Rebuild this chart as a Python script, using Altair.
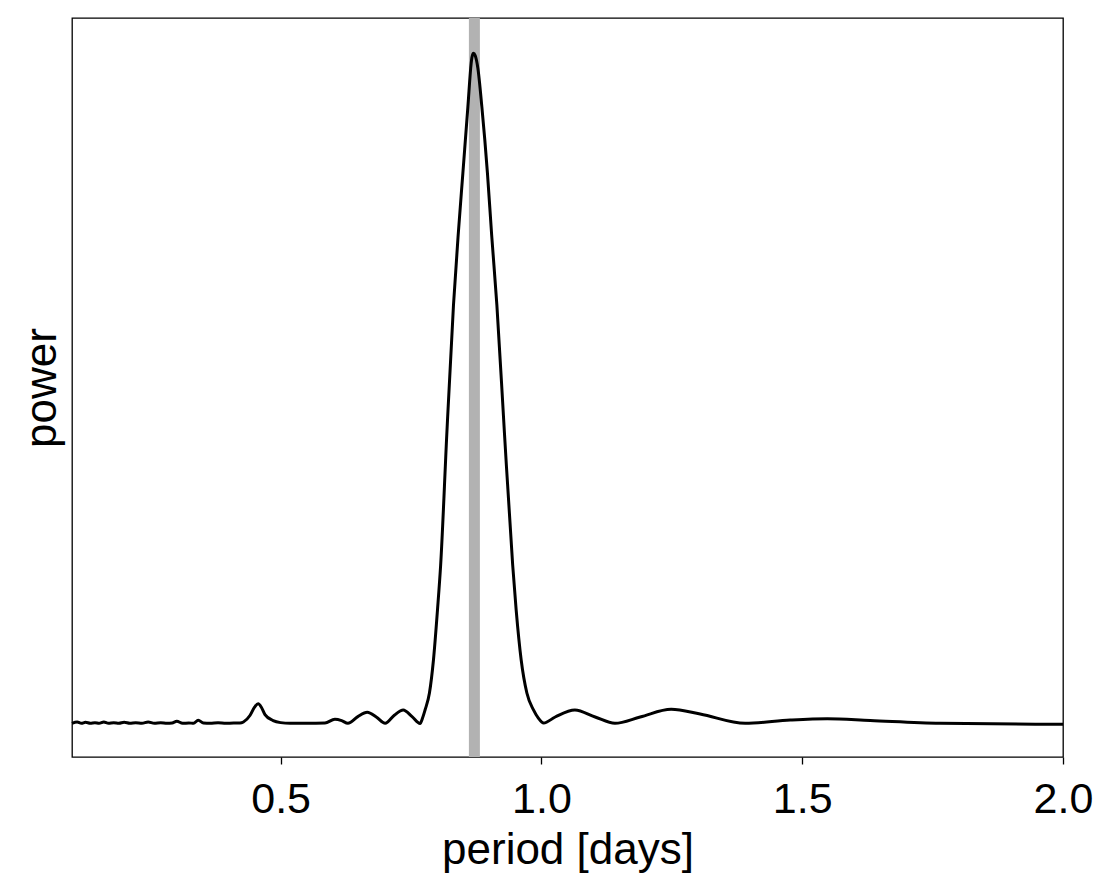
import altair as alt
import pandas as pd

# ---- data ----
periods = [
    0.100, 0.110, 0.118, 0.126, 0.135, 0.144, 0.152, 0.161, 0.170, 0.180,
    0.190, 0.200, 0.211, 0.222, 0.234, 0.246, 0.258, 0.270, 0.282, 0.292,
    0.301, 0.312, 0.324, 0.333, 0.342, 0.352, 0.365, 0.380, 0.395, 0.410,
    0.422, 0.4287, 0.4415, 0.450, 0.457, 0.463, 0.470, 0.4856, 0.500, 0.518,
    0.550, 0.585, 0.604, 0.617, 0.629, 0.648, 0.666, 0.684, 0.7004, 0.718,
    0.735, 0.752, 0.7673, 0.7721, 0.7769, 0.7853, 0.7930, 0.8007, 0.8068, 0.8187,
    0.8314, 0.8404, 0.8494, 0.8590, 0.8653, 0.8668, 0.8697, 0.8730, 0.8781, 0.8858,
    0.8965, 0.9046, 0.9146, 0.9291, 0.9449, 0.9516, 0.9612, 0.9721, 0.9848, 0.9938,
    1.0043, 1.0264, 1.0641, 1.103, 1.141, 1.1894, 1.2488, 1.3044, 1.3907, 1.477,
    1.548, 1.6304, 1.7646, 2.000,
]
power = [
    0.000, 0.002, 0.000, 0.0015, 0.000, 0.001, 0.000, 0.002, 0.000, 0.001,
    0.000, 0.0015, 0.000, 0.001, 0.000, 0.002, 0.000, 0.001, 0.000, 0.0005,
    0.003, 0.000, 0.0005, 0.000, 0.0045, 0.0005, 0.000, 0.001, 0.000, 0.0005,
    0.0005, 0.002, 0.012, 0.024, 0.029, 0.024, 0.013, 0.004, 0.001, 0.000,
    0.000, 0.0005, 0.006, 0.004, 0.000, 0.010, 0.0164, 0.009, 0.000, 0.012,
    0.0199, 0.010, -0.0003, 0.0079, 0.0199, 0.0452, 0.0945, 0.169, 0.2363, 0.4333,
    0.6243, 0.7288, 0.8213, 0.9199, 0.985, 0.994, 1.000, 0.9966, 0.978, 0.9199,
    0.8213, 0.7288, 0.6243, 0.4333, 0.2363, 0.169, 0.0945, 0.0452, 0.0199, 0.008,
    0.0004, 0.0094, 0.0199, 0.0094, 0.000, 0.0094, 0.0209, 0.0139, 0.000, 0.0049,
    0.0069, 0.0042, 0.000, -0.0015,
]
true_period = [0.8715]

x_domain = [0.1, 2.0]
y_domain = [-0.0503, 1.0527]
x_ticks = [0.5, 1.0, 1.5, 2.0]

df = pd.DataFrame({"period": periods, "power": power})
df_band = pd.DataFrame({"period": true_period})

FONT = "Liberation Sans"
LFS = 43
TFS = 44

x_enc = alt.X(
    "period:Q",
    scale=alt.Scale(domain=x_domain, nice=False, zero=False),
    axis=alt.Axis(
        title="period [days]",
        values=x_ticks,
        format=".1f",
        grid=False,
        domain=False,
        ticks=True,
        tickSize=7,
        tickWidth=1.3,
        tickColor="black",
        labelFontSize=LFS,
        labelFont=FONT,
        labelColor="black",
        labelPadding=14,
        titleFontSize=TFS,
        titleFont=FONT,
        titleFontWeight="normal",
        titleColor="black",
        titlePadding=7,
        labelFlush=False,
    ),
)

band = alt.Chart(df_band).mark_rule(color="#b2b2b2", strokeWidth=11).encode(
    x=alt.X("period:Q", scale=alt.Scale(domain=x_domain, nice=False, zero=False)),
)

line = alt.Chart(df).mark_line(color="black", strokeWidth=3, interpolate="monotone").encode(
    x=x_enc,
    y=alt.Y(
        "power:Q",
        scale=alt.Scale(domain=y_domain, nice=False, zero=False),
        axis=alt.Axis(
            title="power",
            labels=False,
            ticks=False,
            grid=False,
            domain=False,
            titleFontSize=TFS,
            titleFont=FONT,
            titleFontWeight="normal",
            titleColor="black",
            titlePadding=8,
        ),
    ),
)

chart = (
    alt.layer(band, line)
    .properties(
        width=991,
        height=739,
        autosize=alt.AutoSizeParams(type="none"),
        padding={"left": 72, "top": 18, "right": 52, "bottom": 134},
        background="white",
    )
    .configure_view(stroke="black", strokeWidth=1.3)
)

chart.save("out.html", embed_options={"renderer": "svg", "actions": False})
